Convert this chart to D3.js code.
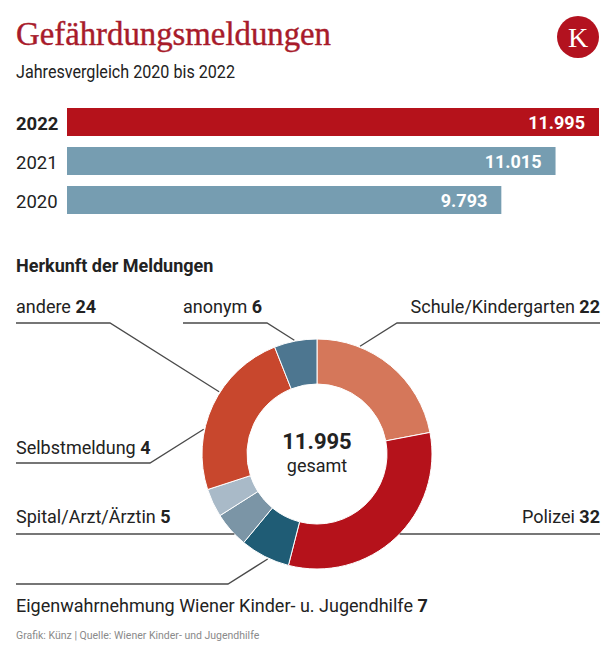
<!DOCTYPE html>
<html>
<head>
<meta charset="utf-8">
<script src="https://cdn.jsdelivr.net/npm/d3@7"></script>
<style>
  html, body { margin: 0; padding: 0; background: #ffffff; }
  svg { display: block; }
  text { font-family: Roboto, "Noto Sans", sans-serif; }
</style>
</head>
<body>
<svg id="chart" width="616" height="654"></svg>
<script>
// ---------- data ----------
const years = ["2022", "2021", "2020"];
const yearValues = [11995, 11015, 9793];
const yearColors = ["#b5121b", "#769db1", "#769db1"];

const sources = ["Schule/Kindergarten", "Polizei", "Eigenwahrnehmung Wiener Kinder- u. Jugendhilfe",
                 "Spital/Arzt/Ärztin", "Selbstmeldung", "andere", "anonym"];
const sourceShares = [22, 32, 7, 5, 4, 24, 6];
const sourceColors = ["#d5775a", "#b5121b", "#1f5c75", "#7b95a6", "#a9bac8", "#c8472d", "#4d7690"];

const totalLabel = "gesamt";
const titleText = "Gefährdungsmeldungen";
const subtitleText = "Jahresvergleich 2020 bis 2022";
const sectionText = "Herkunft der Meldungen";
const footerText = "Grafik: Künz | Quelle: Wiener Kinder- und Jugendhilfe";

// ---------- label layout (positions only) ----------
const labelLayout = [
  { idx: 5, x: 16,  anchor: "start", textY: 313, lineY: 323, x2: 110 },
  { idx: 6, x: 183, anchor: "start", textY: 313, lineY: 323, x2: 267 },
  { idx: 0, x: 600, anchor: "end",   textY: 313, lineY: 323, x2: 397 },
  { idx: 4, x: 16,  anchor: "start", textY: 454, lineY: 463, x2: 150 },
  { idx: 3, x: 16,  anchor: "start", textY: 523, lineY: 534, x2: null },
  { idx: 1, x: 600, anchor: "end",   textY: 523, lineY: 534, x2: null },
  { idx: 2, x: 16,  anchor: "start", textY: 612, lineY: 584, x2: 228 }
];

const de = d3.formatLocale({ decimal: ",", thousands: ".", grouping: [3], currency: ["", "€"] });
const fmt = de.format(",d");

const svg = d3.select("#chart");

// ---------- header ----------
svg.append("text")
  .attr("x", 16).attr("y", 45)
  .attr("textLength", 315).attr("lengthAdjust", "spacingAndGlyphs")
  .style("font-family", "'Liberation Serif', 'DejaVu Serif', serif")
  .style("font-size", "33px")
  .attr("fill", "#a81b2b")
  .attr("stroke", "#a81b2b").attr("stroke-width", 0.4)
  .text(titleText);

svg.append("text")
  .attr("x", 16).attr("y", 78)
  .attr("textLength", 219).attr("lengthAdjust", "spacingAndGlyphs")
  .style("font-size", "17.5px")
  .attr("fill", "#222")
  .text(subtitleText);

// logo
const logo = svg.append("g").attr("transform", "translate(578,37)");
logo.append("circle").attr("r", 21).attr("fill", "#b3121f");
logo.append("text")
  .attr("text-anchor", "middle").attr("y", 10)
  .style("font-family", "'Liberation Serif', 'DejaVu Serif', serif")
  .style("font-size", "28px")
  .attr("fill", "#fff")
  .text("K");

// ---------- bars ----------
const x = d3.scaleLinear().domain([0, d3.max(yearValues)]).range([67, 599]);
const y = d3.scaleBand().domain(years).range([108, 214]).paddingInner(11 / 39);

const barG = svg.append("g");
years.forEach((yr, i) => {
  const y0 = y(yr), bw = y.bandwidth();
  barG.append("rect")
    .attr("x", x(0)).attr("y", y0)
    .attr("width", x(yearValues[i]) - x(0)).attr("height", bw)
    .attr("fill", yearColors[i]);
  barG.append("text")
    .attr("x", x(yearValues[i]) - 14).attr("y", y0 + bw / 2 + 6.5)
    .attr("text-anchor", "end")
    .style("font-size", "18px").style("font-weight", "700")
    .attr("fill", "#fff")
    .text(fmt(yearValues[i]));
  barG.append("text")
    .attr("x", 16).attr("y", y0 + bw / 2 + 8)
    .style("font-size", "18.5px")
    .style("font-weight", i === 0 ? "700" : "400")
    .attr("fill", "#222")
    .text(yr);
});

// ---------- donut ----------
svg.append("text")
  .attr("x", 16).attr("y", 272)
  .style("font-size", "18px").style("font-weight", "700")
  .attr("fill", "#222")
  .text(sectionText);

const cx = 317, cy = 454, R = 115, r0 = 70;
const pie = d3.pie().sort(null).value(d => d)(sourceShares);
const arc = d3.arc().innerRadius(r0).outerRadius(R);
const donut = svg.append("g").attr("transform", `translate(${cx},${cy})`);
donut.selectAll("path").data(pie).join("path")
  .attr("d", arc)
  .attr("fill", (d, i) => sourceColors[i])
  .attr("stroke", "#fff").attr("stroke-width", 1);

donut.append("text")
  .attr("text-anchor", "middle").attr("y", -5)
  .style("font-size", "22px").style("font-weight", "700")
  .attr("fill", "#222")
  .text(fmt(d3.max(yearValues)));
donut.append("text")
  .attr("text-anchor", "middle").attr("y", 18)
  .style("font-size", "18px")
  .attr("fill", "#222")
  .text(totalLabel);

// ---------- labels with leader lines ----------
const slope = 0.63;
const lineG = svg.append("g").attr("fill", "none").attr("stroke", "#4a4a4a").attr("stroke-width", 1.3);
labelLayout.forEach(L => {
  const t = svg.append("text")
    .attr("x", L.x).attr("y", L.textY)
    .attr("text-anchor", L.anchor)
    .style("font-size", "18px")
    .attr("fill", "#222");
  t.append("tspan").text(sources[L.idx] + " ");
  t.append("tspan").style("font-weight", "700").text(sourceShares[L.idx]);

  let pts;
  if (L.x2 === null) {
    const dy = L.lineY - cy;
    const dx = Math.sqrt(R * R - dy * dy);
    const endX = L.anchor === "start" ? cx - dx : cx + dx;
    pts = [[L.x, L.lineY], [endX, L.lineY]];
  } else {
    // walk from the bend point toward the ring with a fixed slope
    const px = L.x2 - cx, py = L.lineY - cy;
    let dxs = Math.sign(-px), dys = Math.sign(-py) * slope;
    const n = Math.hypot(dxs, dys); dxs /= n; dys /= n;
    const b = px * dxs + py * dys;
    const c = px * px + py * py - (R + 1) * (R + 1);
    const tt = -b - Math.sqrt(b * b - c);
    pts = [[L.x, L.lineY], [L.x2, L.lineY], [cx + px + tt * dxs, cy + py + tt * dys]];
  }
  lineG.append("path").attr("d", d3.line()(pts));
});

// ---------- footer ----------
svg.append("text")
  .attr("x", 16).attr("y", 639)
  .style("font-size", "10.5px")
  .attr("fill", "#8a8a8a")
  .text(footerText);
</script>
</body>
</html>
